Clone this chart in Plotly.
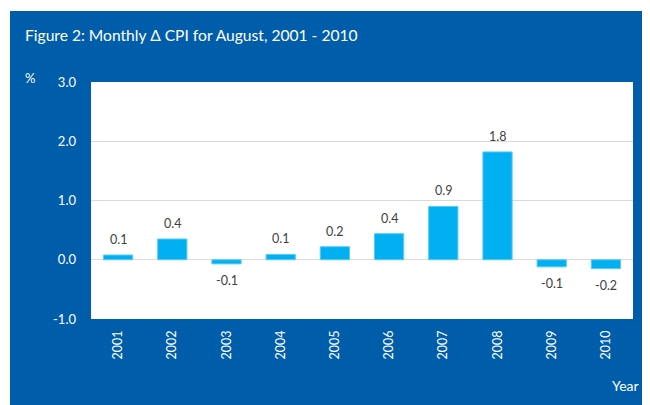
import plotly.graph_objects as go

years = ["2001", "2002", "2003", "2004", "2005", "2006", "2007", "2008", "2009", "2010"]
values = [0.08, 0.35, -0.07, 0.09, 0.22, 0.44, 0.90, 1.82, -0.12, -0.15]
labels = ["0.1", "0.4", "-0.1", "0.1", "0.2", "0.4", "0.9", "1.8", "-0.1", "-0.2"]
y_ticks = [-1.0, 0.0, 1.0, 2.0, 3.0]

# page shows the figure offset by the 8px body margin
OFF = 8
W, H = 650 - OFF, 405 - OFF
L, T = 91 - OFF, 82 - OFF
R = W - (633 - OFF)
B = H - (319 - OFF)
pw, ph = W - L - R, H - T - B

def px_x(x):
    return (x - OFF - L) / pw

def px_y(y):
    return (H - B - (y - OFF)) / ph

BLUE = "#005DAA"
FONT = "Lato"

fig = go.Figure()
fig.add_trace(go.Bar(
    x=years, y=values,
    marker=dict(color="#00B0F0", line=dict(color="#5CCBF4", width=1)),
    width=0.54,
    hoverinfo="skip",
))

for i, (v, t) in enumerate(zip(values, labels)):
    fig.add_annotation(
        x=i, y=v, text=t, showarrow=False,
        yanchor="bottom" if v >= 0 else "top",
        yshift=6 if v >= 0 else -7,
        font=dict(family=FONT, size=12.5, color="#404040"),
    )

fig.add_shape(type="rect", xref="paper", yref="paper",
              x0=px_x(10), x1=px_x(660), y0=px_y(11), y1=px_y(415),
              fillcolor=BLUE, line=dict(width=0), layer="below")
fig.add_shape(type="rect", xref="paper", yref="paper",
              x0=0, x1=1, y0=0, y1=1,
              fillcolor="white", line=dict(width=0), layer="below")

fig.add_annotation(xref="paper", yref="paper", x=px_x(23), y=px_y(35),
                   xanchor="left", yanchor="middle", showarrow=False,
                   text="Figure 2: Monthly \u0394 CPI for August, 2001 - 2010",
                   font=dict(family=FONT, size=15.6, color="white"))
fig.add_annotation(xref="paper", yref="paper", x=px_x(23), y=px_y(78),
                   xanchor="left", yanchor="middle", showarrow=False,
                   text="%", font=dict(family=FONT, size=13, color="white"))
fig.add_annotation(xref="paper", yref="paper", x=px_x(641), y=px_y(385),
                   xanchor="right", yanchor="middle", showarrow=False,
                   text="Year", font=dict(family=FONT, size=14, color="white"))

fig.update_layout(
    width=W, height=H,
    margin=dict(l=L, r=R, t=T, b=B),
    paper_bgcolor="white",
    plot_bgcolor="white",
    showlegend=False,
    xaxis=dict(
        type="category",
        range=[-0.5, len(years) - 0.5],
        tickangle=-90,
        tickfont=dict(family=FONT, size=12.5, color="white"),
        showgrid=False, showline=False, ticks="", ticklabelstandoff=8,
    ),
    yaxis=dict(
        range=[-1.0, 3.0],
        tickvals=y_ticks,
        ticktext=[f"{v:.1f}" for v in y_ticks],
        tickfont=dict(family=FONT, size=13, color="white"),
        showgrid=True, gridcolor="#D9D9D9", gridwidth=1,
        zeroline=True, zerolinecolor="#D9D9D9", zerolinewidth=1,
        showline=False, ticks="", ticklabelstandoff=14,
    ),
)

fig.write_html("out.html")
